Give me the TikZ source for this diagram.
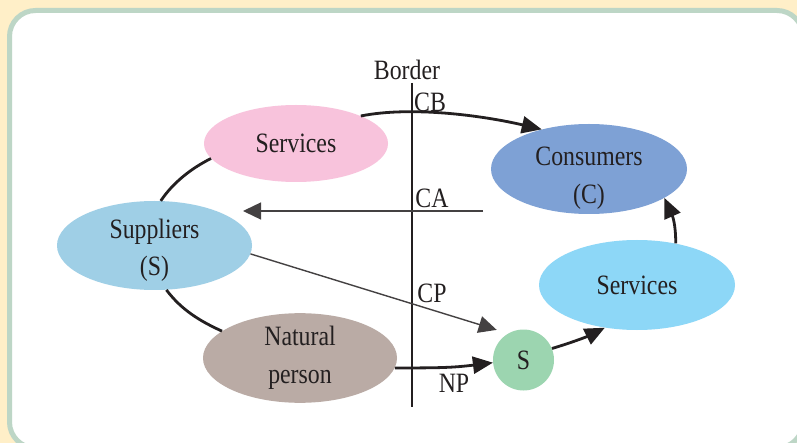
\documentclass[tikz,border=0pt]{standalone}
\usepackage{fontspec}
\setmainfont{Liberation Serif}[FakeStretch=0.85]
\usepackage{xcolor}
\usepackage{tikz}
\usetikzlibrary{shapes, calc, arrows.meta}
\definecolor{creambg}{RGB}{255,239,200}
\definecolor{framegreen}{RGB}{189,214,198}
\definecolor{inkblack}{RGB}{35,31,32}
\definecolor{pinkserv}{RGB}{248,195,220}
\definecolor{consblue}{RGB}{126,161,213}
\definecolor{supblue}{RGB}{159,207,230}
\definecolor{natgray}{RGB}{186,171,165}
\definecolor{servblue}{RGB}{141,215,247}
\definecolor{sgreen}{RGB}{156,213,176}

\begin{document}
\begin{tikzpicture}[x=1pt, y=-1pt,
	every node/.style={text=inkblack, font=\fontsize{28}{38}\selectfont},
	blob/.style={ellipse, inner sep=0pt, align=center},
	flow/.style={inkblack, line width=2.8pt, -{Triangle[length=20pt,width=17pt]}},
	link/.style={inkblack, line width=2.8pt},
	thinflow/.style={inkblack!85, line width=1.4pt, -{Triangle[length=18pt,width=17pt]}}]
						%%						background and frame
						\useasboundingbox (0,0) rectangle (797,443);
						\fill[creambg] (0,0) rectangle (797,443);
						\draw[framegreen, line width=5pt, fill=white, rounded corners=26pt] (9.5,10.5) rectangle (803,448);
						
						\pgfmathsetmacro{\borderx}{412}
						\draw[inkblack, line width=1.4pt] (\borderx,83) -- (\borderx,407);
						\node (border) at (407,70) {Border};
						
						\node[blob, fill=pinkserv, minimum width=184pt, minimum height=77pt] (pserv) at (296,143.5) {Services};
						\node[blob, fill=consblue, minimum width=196pt, minimum height=90pt] (cons) at (589,169) {};
						\node[align=center] (constext) at (589,178) {Consumers\\(C)};
						\node[blob, fill=supblue, minimum width=195pt, minimum height=89pt] (sup) at (154.5,245.5) {};
						\node[align=center, font=\fontsize{28}{37}\selectfont] (suptext) at (154.5,250) {Suppliers\\(S)};
						\node[blob, fill=natgray, minimum width=194pt, minimum height=88pt] (nat) at (300,358) {Natural\\person};
						\node[blob, fill=servblue, minimum width=196pt, minimum height=90pt] (serv) at (637,285) {Services};
						\node[circle, fill=sgreen, inner sep=0pt, minimum size=61pt] (s) at (523.5,360) {S};
						
						\node (cb) at (430,102) {CB};
						\node (ca) at (432,198) {CA};
						\node (cp) at (432,293) {CP};
						\node (np) at (454,383) {NP};
						
						\coordinate (caR) at (483,211);
						\coordinate (caL) at (243,211);
						
						\draw[link] (sup.82) .. controls +(12,-18) and +(-20,10) .. (pserv.190);
						\draw[link] (sup.285) .. controls +(15,20) and +(-22,-10) .. (nat.161);
						\draw[flow] (pserv.23) .. controls +(50,-10) and +(-60,-14) .. (cons.140);
						\draw[thinflow] (caR) -- (caL);
						\draw[thinflow, shorten >=12pt] (sup.-5) -- (s.120);
						\draw[flow] (nat.-6) .. controls +(45,0) and +(-40,5) .. (s.185);
						\draw[flow] (s.22) .. controls +(20,-6) and +(-18,9) .. (serv.233);
						\draw[flow] (serv.47) .. controls +(0,-20) and +(8,18) .. (cons.-21);
\end{tikzpicture}
\end{document}
